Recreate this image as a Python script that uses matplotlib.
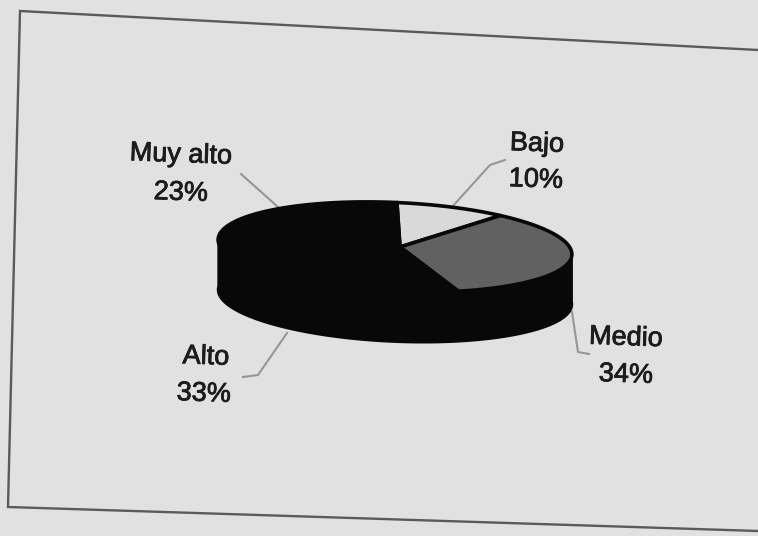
import numpy as np
import matplotlib
matplotlib.use("Agg")
import matplotlib.pyplot as plt
import matplotlib.patheffects as pe

categories = ["Bajo", "Medio", "Alto", "Muy alto"]
values = [10, 34, 33, 23]
slice_colors = ["#d9d9d9", "#616161", "#080808", "#080808"]

plt.rcParams["font.family"] = ["Liberation Sans", "DejaVu Sans"]

fig = plt.figure(figsize=(7.58, 5.36), dpi=100, facecolor="#e1e1e1")
ax = fig.add_axes([0, 0, 1, 1])
ax.set_xlim(0, 758)
ax.set_ylim(536, 0)
ax.axis("off")

# Chart frame, slightly skewed
ax.plot([758, 20, 8, 758], [50, 11, 507, 531], color="#5a5a5a", lw=1.7,
        solid_joinstyle="miter", zorder=1)

# Pie geometry
cx, cy = 395, 247
apex = np.array([400.0, 247.0])
a, b = 177, 44.5
depth = 50
tilt = np.deg2rad(2.5)
ink = "#080808"


def rim(theta, drop=0.0):
    """Points on the tilted ellipse for angles in degrees (counter-clockwise)."""
    t = np.deg2rad(np.asarray(theta, dtype=float))
    ex, ey = a * np.cos(t), -b * np.sin(t)
    x = cx + ex * np.cos(tilt) - ey * np.sin(tilt)
    y = cy + ex * np.sin(tilt) + ey * np.cos(tilt) + drop
    return x, y


# Side wall of the disc
front = np.linspace(176, 364, 200)
x_top, y_top = rim(front)
x_low, y_low = rim(front, depth)
ax.fill(np.r_[x_top, x_low[::-1]], np.r_[y_top, y_low[::-1]],
        facecolor=ink, edgecolor=ink, lw=2, zorder=2)

# Top face: slices run clockwise from twelve o'clock
fractions = np.array(values) / sum(values)
edges = 90 - 360 * np.r_[0, np.cumsum(fractions)]
for color, start, stop in zip(slice_colors, edges[:-1], edges[1:]):
    th = np.linspace(start, stop, 120)
    xs, ys = rim(th)
    ax.fill(np.r_[apex[0], xs], np.r_[apex[1], ys], facecolor=color,
            edgecolor=ink, lw=2.6, joinstyle="round", zorder=3)

# Leader lines
leader_color = "#969696"
leaders = {
    "Muy alto": ([241, 278], [174, 207]),
    "Bajo": ([505, 490, 452], [160, 165, 207]),
    "Medio": ([572, 578, 589], [312, 352, 354]),
    "Alto": ([243, 258, 287], [377, 375, 333]),
}
for name in categories:
    xs, ys = leaders[name]
    ax.plot(xs, ys, color=leader_color, lw=1.5, zorder=1.5)

# Labels with category and share on two lines
label_pos = {
    "Muy alto": [(181, 155), (181, 193)],
    "Bajo": [(537, 144), (536, 180)],
    "Medio": [(626, 338), (626, 375)],
    "Alto": [(206, 357), (204, 394)],
}
outline = [pe.withStroke(linewidth=0.6, foreground="#1c1c1c")]
for name, value in zip(categories, values):
    (x1, y1), (x2, y2) = label_pos[name]
    for x, y, s in [(x1, y1, name), (x2, y2, f"{value}%")]:
        ax.text(x, y, s, ha="center", va="center", fontsize=19.5, rotation=-2,
                color="#1c1c1c", path_effects=outline, zorder=5)

fig.savefig("out.png", dpi=100, facecolor=fig.get_facecolor())
